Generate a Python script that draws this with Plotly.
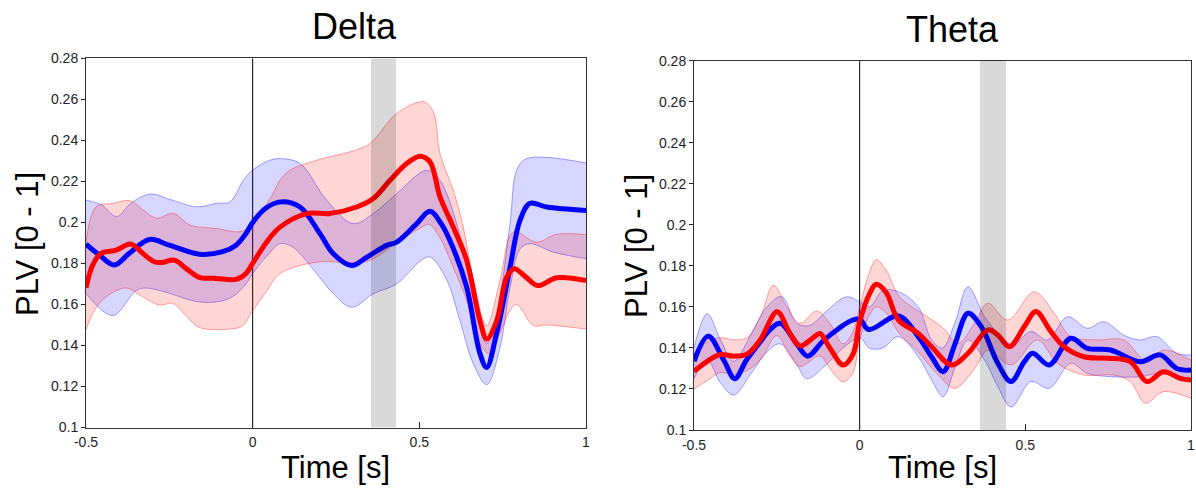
import plotly.graph_objects as go

# ---------------- data ----------------
y_ticks = [0.1, 0.12, 0.14, 0.16, 0.18, 0.2, 0.22, 0.24, 0.26, 0.28]
y_tick_labels = ["0.1", "0.12", "0.14", "0.16", "0.18", "0.2", "0.22", "0.24", "0.26", "0.28"]
x_ticks = [-0.5, 0, 0.5, 1]
x_tick_labels = ["-0.5", "0", "0.5", "1"]
panel_titles = ["Delta", "Theta"]
window_delta = [0.355, 0.43]
window_theta = [0.363, 0.442]

# Delta - blue
d_blue_x = [-0.5, -0.46, -0.415, -0.37, -0.31, -0.25, -0.16, -0.09, -0.05, -0.02, 0.0, 0.04, 0.085, 0.142,
            0.202, 0.242, 0.297, 0.342, 0.402, 0.432, 0.49, 0.532, 0.565, 0.60, 0.642, 0.682, 0.702, 0.732,
            0.772, 0.802, 0.832, 0.882, 1.0]
d_blue_y = [0.1894, 0.1841, 0.1792, 0.1849, 0.1917, 0.1889, 0.1845, 0.1857, 0.1889, 0.1946, 0.200, 0.207,
            0.210, 0.2075, 0.1945, 0.1847, 0.179, 0.183, 0.1888, 0.1904, 0.199, 0.2054, 0.1995, 0.188, 0.1684,
            0.136, 0.1293, 0.146, 0.178, 0.201, 0.2093, 0.2075, 0.2058]
d_blue_hi_x = [-0.5, -0.453, -0.408, -0.368, -0.308, -0.248, -0.168, -0.108, -0.068, -0.028, 0.0, 0.05, 0.082,
               0.142, 0.222, 0.302, 0.362, 0.432, 0.522, 0.562, 0.612, 0.642, 0.682, 0.702, 0.732, 0.772, 0.792,
               0.822, 1.0]
d_blue_hi_y = [0.2109, 0.2085, 0.2028, 0.209, 0.2138, 0.2112, 0.2076, 0.2093, 0.21, 0.2205, 0.2255, 0.2302,
               0.2311, 0.2287, 0.2108, 0.1994, 0.2043, 0.214, 0.2254, 0.2205, 0.1994, 0.178, 0.1489, 0.141, 0.155,
               0.1994, 0.2254, 0.2311, 0.229]
d_blue_lo_x = [-0.5, -0.42, -0.35, -0.32, -0.25, -0.17, -0.1, -0.06, -0.02, 0.0, 0.05, 0.082, 0.12, 0.192,
               0.242, 0.297, 0.362, 0.432, 0.502, 0.532, 0.582, 0.622, 0.662, 0.702, 0.742, 0.772, 0.802, 0.832,
               0.902, 1.0]
d_blue_lo_y = [0.1654, 0.1545, 0.1667, 0.168, 0.1654, 0.1614, 0.1614, 0.1638, 0.170, 0.175, 0.185, 0.1896,
               0.188, 0.175, 0.1652, 0.1586, 0.1652, 0.170, 0.181, 0.1831, 0.172, 0.152, 0.131, 0.1209, 0.139,
               0.168, 0.187, 0.1896, 0.1855, 0.1823]

# Delta - red
d_red_x = [-0.5, -0.48, -0.455, -0.41, -0.365, -0.33, -0.295, -0.27, -0.235, -0.2, -0.16, -0.11, -0.05, -0.02,
           0.0, 0.04, 0.082, 0.162, 0.232, 0.312, 0.362, 0.412, 0.462, 0.502, 0.532, 0.562, 0.602, 0.642, 0.682,
           0.702, 0.732, 0.762, 0.785, 0.82, 0.855, 0.912, 1.0]
d_red_y = [0.1681, 0.1792, 0.1849, 0.1865, 0.1894, 0.1849, 0.1808, 0.1805, 0.1816, 0.1776, 0.1732, 0.1727,
           0.1722, 0.1751, 0.180, 0.190, 0.1977, 0.2043, 0.2043, 0.2075, 0.2116, 0.2205, 0.2287, 0.2323, 0.2295,
           0.2124, 0.1977, 0.1815, 0.152, 0.1432, 0.152, 0.1733, 0.1774, 0.1733, 0.1692, 0.173, 0.1717]
d_red_hi_x = [-0.5, -0.47, -0.418, -0.368, -0.328, -0.288, -0.238, -0.188, -0.108, -0.038, 0.0, 0.05, 0.1,
              0.192, 0.292, 0.352, 0.432, 0.512, 0.542, 0.562, 0.602, 0.632, 0.662, 0.702, 0.742, 0.782, 0.852,
              0.912, 1.0]
d_red_hi_y = [0.190, 0.2076, 0.2093, 0.2106, 0.206, 0.202, 0.2044, 0.1987, 0.197, 0.1955, 0.1987, 0.211, 0.224,
              0.2303, 0.2344, 0.2385, 0.2531, 0.2588, 0.254, 0.2336, 0.2156, 0.1977, 0.1717, 0.1497, 0.1717,
              0.1953, 0.1904, 0.1942, 0.194]
d_red_lo_x = [-0.5, -0.475, -0.44, -0.38, -0.33, -0.28, -0.24, -0.2, -0.16, -0.07, -0.03, 0.0, 0.04, 0.082,
              0.192, 0.342, 0.432, 0.5, 0.53, 0.56, 0.602, 0.642, 0.682, 0.71, 0.742, 0.772, 0.792, 0.842, 0.88,
              1.0]
d_red_lo_y = [0.1475, 0.157, 0.1637, 0.168, 0.1637, 0.1597, 0.1605, 0.1545, 0.1488, 0.148, 0.1496, 0.157,
              0.166, 0.175, 0.1806, 0.181, 0.190, 0.197, 0.199, 0.193, 0.178, 0.162, 0.141, 0.136, 0.146, 0.157,
              0.160, 0.1497, 0.150, 0.148]

# Theta - blue
t_blue_x = [-0.5, -0.457, -0.41, -0.377, -0.342, -0.30, -0.27, -0.24, -0.19, -0.157, -0.11, -0.063, -0.023,
            0.0, 0.027, 0.117, 0.177, 0.217, 0.252, 0.287, 0.327, 0.367, 0.417, 0.457, 0.497, 0.522, 0.572,
            0.637, 0.687, 0.757, 0.847, 0.907, 0.957, 1.0]
t_blue_y = [0.1335, 0.1457, 0.134, 0.125, 0.134, 0.143, 0.149, 0.152, 0.142, 0.136, 0.1435, 0.1495, 0.1535,
            0.154, 0.149, 0.1556, 0.1455, 0.1357, 0.1284, 0.1416, 0.1569, 0.1504, 0.1325, 0.1236, 0.1333,
            0.1374, 0.1317, 0.1447, 0.1398, 0.139, 0.1333, 0.1366, 0.130, 0.1292]
t_blue_hi_x = [-0.5, -0.46, -0.42, -0.38, -0.33, -0.28, -0.235, -0.19, -0.15, -0.1, -0.04, 0.0, 0.03, 0.07,
               0.117, 0.177, 0.217, 0.25, 0.287, 0.327, 0.377, 0.427, 0.462, 0.517, 0.567, 0.627, 0.687, 0.737,
               0.80, 0.847, 0.897, 0.957, 1.0]
t_blue_hi_y = [0.140, 0.1567, 0.144, 0.1335, 0.146, 0.160, 0.165, 0.152, 0.151, 0.158, 0.1649, 0.1625, 0.160,
               0.168, 0.1674, 0.160, 0.1439, 0.140, 0.152, 0.1698, 0.1552, 0.1455, 0.1416, 0.148, 0.1439, 0.1552,
               0.1496, 0.1528, 0.146, 0.1439, 0.1455, 0.1374, 0.1366]
t_blue_lo_x = [-0.5, -0.46, -0.42, -0.38, -0.33, -0.28, -0.24, -0.19, -0.16, -0.1, -0.05, 0.0, 0.03, 0.07,
               0.117, 0.177, 0.217, 0.252, 0.287, 0.327, 0.377, 0.417, 0.457, 0.517, 0.572, 0.637, 0.687, 0.757,
               0.847, 0.907, 1.0]
t_blue_lo_y = [0.125, 0.134, 0.123, 0.117, 0.127, 0.138, 0.142, 0.132, 0.125, 0.132, 0.140, 0.145, 0.1398,
               0.140, 0.1455, 0.1357, 0.1244, 0.1162, 0.130, 0.1439, 0.1341, 0.1211, 0.1112, 0.1236, 0.1203,
               0.1325, 0.1276, 0.126, 0.126, 0.1276, 0.1240]

# Theta - red
t_red_x = [-0.5, -0.46, -0.42, -0.38, -0.34, -0.30, -0.249, -0.21, -0.18, -0.14, -0.12, -0.09, -0.05, -0.02,
           0.0, 0.03, 0.05, 0.08, 0.117, 0.177, 0.217, 0.277, 0.327, 0.387, 0.417, 0.452, 0.497, 0.532, 0.577,
           0.617, 0.677, 0.747, 0.817, 0.867, 0.917, 0.967, 1.0]
t_red_y = [0.1286, 0.1335, 0.1368, 0.136, 0.137, 0.144, 0.1576, 0.147, 0.141, 0.145, 0.147, 0.140, 0.1317,
           0.137, 0.1527, 0.1665, 0.171, 0.167, 0.1536, 0.1471, 0.1406, 0.1317, 0.1374, 0.1488, 0.1463, 0.1406,
           0.1504, 0.1577, 0.148, 0.1406, 0.1357, 0.135, 0.1333, 0.1236, 0.1284, 0.1252, 0.1244]
t_red_hi_x = [-0.5, -0.46, -0.42, -0.38, -0.34, -0.30, -0.26, -0.22, -0.18, -0.13, -0.09, -0.05, -0.02, 0.0,
              0.03, 0.05, 0.08, 0.12, 0.197, 0.25, 0.297, 0.347, 0.387, 0.447, 0.527, 0.587, 0.637, 0.717, 0.797,
              0.867, 0.917, 1.0]
t_red_hi_y = [0.137, 0.143, 0.145, 0.144, 0.145, 0.155, 0.1706, 0.160, 0.152, 0.158, 0.152, 0.142, 0.148, 0.160,
              0.177, 0.183, 0.178, 0.165, 0.156, 0.150, 0.1423, 0.152, 0.1618, 0.1536, 0.1674, 0.157, 0.1455,
              0.1439, 0.1439, 0.1333, 0.139, 0.134]
t_red_lo_x = [-0.5, -0.46, -0.42, -0.38, -0.34, -0.30, -0.25, -0.21, -0.18, -0.12, -0.09, -0.05, -0.02, 0.0,
              0.03, 0.05, 0.08, 0.12, 0.177, 0.237, 0.287, 0.347, 0.387, 0.457, 0.537, 0.597, 0.677, 0.767, 0.817,
              0.862, 0.917, 1.0]
t_red_lo_y = [0.120, 0.124, 0.128, 0.127, 0.129, 0.134, 0.146, 0.136, 0.131, 0.136, 0.130, 0.1235, 0.128, 0.144,
              0.156, 0.160, 0.157, 0.147, 0.138, 0.1268, 0.1203, 0.130, 0.139, 0.1317, 0.1439, 0.1325, 0.1268,
              0.1268, 0.1236, 0.113, 0.1187, 0.1155]

# ---------------- styles ----------------
FONT = "Arial, Liberation Sans, sans-serif"
BLUE = "rgb(0,0,255)"
RED = "rgb(255,0,0)"
BLUE_FILL = "rgba(0,0,255,0.16)"
RED_FILL = "rgba(255,0,0,0.16)"
BLUE_EDGE = "rgba(0,0,255,0.35)"
RED_EDGE = "rgba(255,0,0,0.35)"

fig = go.Figure()


def add_panel(xa, ya, bands):
    for (hx, hy, lx, ly, mx, my, edge, fill, col) in bands:
        fig.add_trace(go.Scatter(x=hx, y=hy, mode="lines", xaxis=xa, yaxis=ya,
                                 line=dict(color=edge, width=1, shape="spline", smoothing=1.0),
                                 hoverinfo="skip", showlegend=False))
        fig.add_trace(go.Scatter(x=lx, y=ly, mode="lines", xaxis=xa, yaxis=ya, fill="tonexty",
                                 fillcolor=fill,
                                 line=dict(color=edge, width=1, shape="spline", smoothing=1.0),
                                 hoverinfo="skip", showlegend=False))
    for (hx, hy, lx, ly, mx, my, edge, fill, col) in bands:
        fig.add_trace(go.Scatter(x=mx, y=my, mode="lines", xaxis=xa, yaxis=ya,
                                 line=dict(color=col, width=5, shape="spline", smoothing=1.0),
                                 hoverinfo="skip", showlegend=False))


add_panel("x", "y", [
    (d_blue_hi_x, d_blue_hi_y, d_blue_lo_x, d_blue_lo_y, d_blue_x, d_blue_y, BLUE_EDGE, BLUE_FILL, BLUE),
    (d_red_hi_x, d_red_hi_y, d_red_lo_x, d_red_lo_y, d_red_x, d_red_y, RED_EDGE, RED_FILL, RED),
])
add_panel("x2", "y2", [
    (t_blue_hi_x, t_blue_hi_y, t_blue_lo_x, t_blue_lo_y, t_blue_x, t_blue_y, BLUE_EDGE, BLUE_FILL, BLUE),
    (t_red_hi_x, t_red_hi_y, t_red_lo_x, t_red_lo_y, t_red_x, t_red_y, RED_EDGE, RED_FILL, RED),
])

W, H = 1196, 490


def xdom(a, b):
    return [a / W, b / W]


def ydom(top, bottom):
    return [1 - bottom / H, 1 - top / H]


xaxis_common = dict(range=[-0.5, 1.0], tickvals=x_ticks, ticktext=x_tick_labels, ticks="inside", ticklen=6,
                    tickcolor="#222", showline=True, linecolor="#333", linewidth=1, mirror=True,
                    showgrid=False, zeroline=False, tickfont=dict(family=FONT, size=14, color="#222"),
                    fixedrange=True, automargin=False, ticklabeloverflow="allow", ticklabelstandoff=2)
yaxis_common = dict(range=[0.1, 0.28], tickvals=y_ticks, ticktext=y_tick_labels, ticks="outside", ticklen=4,
                    tickcolor="#222", showline=True, linecolor="#333", linewidth=1, mirror=True,
                    showgrid=False, zeroline=False, tickfont=dict(family=FONT, size=14, color="#222"),
                    fixedrange=True, automargin=False, ticklabeloverflow="allow")

fig.update_layout(
    width=W, height=H, margin=dict(l=0, r=0, t=0, b=0, autoexpand=False),
    paper_bgcolor="white", plot_bgcolor="white",
    xaxis=dict(domain=xdom(86, 586), anchor="y", **xaxis_common),
    yaxis=dict(domain=ydom(58.3, 427.5), anchor="x", **yaxis_common),
    xaxis2=dict(domain=xdom(694, 1191), anchor="y2", **xaxis_common),
    yaxis2=dict(domain=ydom(60.7, 430), anchor="x2", **yaxis_common),
    showlegend=False,
)

shapes = []
for xr, yr, win in (("x", "y", window_delta), ("x2", "y2", window_theta)):
    shapes.append(dict(type="rect", xref=xr, yref=yr, x0=win[0], x1=win[1], y0=0.1, y1=0.28,
                       fillcolor="rgba(0,0,0,0.15)", line=dict(width=0), layer="above"))
    shapes.append(dict(type="line", xref=xr, yref=yr, x0=0, x1=0, y0=0.1, y1=0.28,
                       line=dict(color="black", width=1), layer="below"))
fig.update_layout(shapes=shapes)

ann = []
ann.append(dict(text=panel_titles[0], x=354 / W, y=1 - 27 / H, xref="paper", yref="paper",
                showarrow=False, xanchor="center", yanchor="middle", font=dict(family=FONT, size=36, color="black")))
ann.append(dict(text=panel_titles[1], x=952 / W, y=1 - 29 / H, xref="paper", yref="paper",
                showarrow=False, xanchor="center", yanchor="middle", font=dict(family=FONT, size=36, color="black")))
for cx in (335, 942):
    ann.append(dict(text="Time [s]", x=cx / W, y=1 - 467 / H, xref="paper", yref="paper",
                    showarrow=False, xanchor="center", yanchor="middle",
                    font=dict(family=FONT, size=31, color="black")))
for cx, cy in ((27, 244), (636, 246)):
    ann.append(dict(text="PLV [0 - 1]", x=cx / W, y=1 - cy / H, xref="paper", yref="paper",
                    showarrow=False, xanchor="center", yanchor="middle", textangle=-90,
                    font=dict(family=FONT, size=31, color="black")))
fig.update_layout(annotations=ann)

fig.write_html("out.html")
